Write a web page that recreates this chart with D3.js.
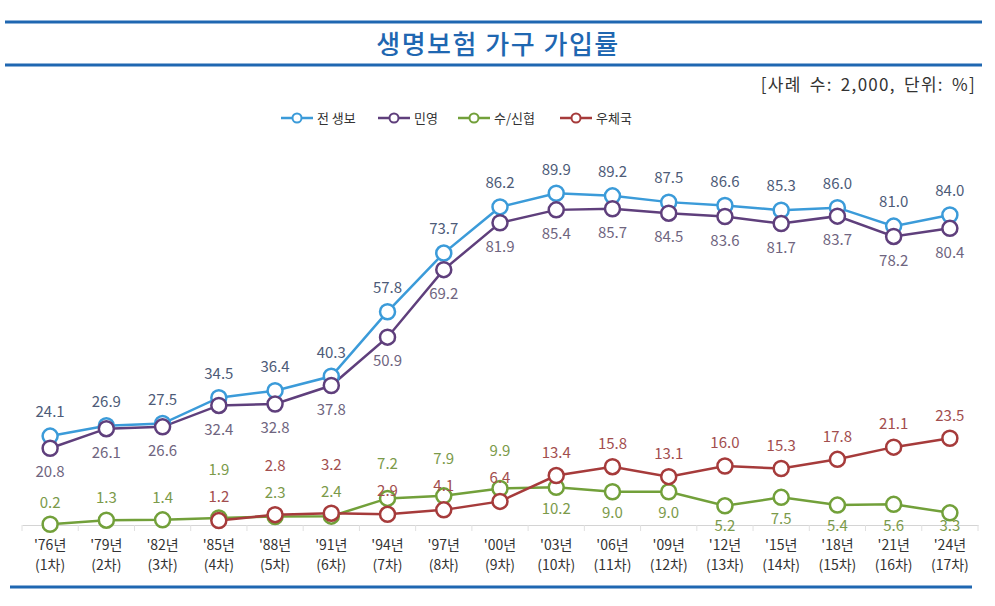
<!DOCTYPE html>
<html>
<head>
<meta charset="utf-8">
<script src="https://cdn.jsdelivr.net/npm/d3@7"></script>
<style>
  body { margin: 0; background: #fff; }
  svg { font-family: "Noto Sans CJK KR", "Noto Sans", sans-serif; }
</style>
</head>
<body>
<div id="chart"></div>
<script>
// categories (two-line tick labels)
const years = ["'76년", "'79년", "'82년", "'85년", "'88년", "'91년", "'94년", "'97년", "'00년",
  "'03년", "'06년", "'09년", "'12년", "'15년", "'18년", "'21년", "'24년"];
const rounds = ["(1차)", "(2차)", "(3차)", "(4차)", "(5차)", "(6차)", "(7차)", "(8차)", "(9차)",
  "(10차)", "(11차)", "(12차)", "(13차)", "(14차)", "(15차)", "(16차)", "(17차)"];

// series values (%)
const total = [24.1, 26.9, 27.5, 34.5, 36.4, 40.3, 57.8, 73.7, 86.2, 89.9, 89.2, 87.5, 86.6, 85.3, 86.0, 81.0, 84.0];
const privateIns = [20.8, 26.1, 26.6, 32.4, 32.8, 37.8, 50.9, 69.2, 81.9, 85.4, 85.7, 84.5, 83.6, 81.7, 83.7, 78.2, 80.4];
const coop = [0.2, 1.3, 1.4, 1.9, 2.3, 2.4, 7.2, 7.9, 9.9, 10.2, 9.0, 9.0, 5.2, 7.5, 5.4, 5.6, 3.3];
const post = [null, null, null, 1.2, 2.8, 3.2, 2.9, 4.1, 6.4, 13.4, 15.8, 13.1, 16.0, 15.3, 17.8, 21.1, 23.5];

const seriesNames = ["전 생보", "민영", "수/신협", "우체국"];

const width = 995;
const height = 606;

const svg = d3.select("#chart").append("svg")
  .attr("width", width)
  .attr("height", height);

// frame lines + title
const frameBlue = "#1f67b1";
[22, 65, 587].forEach((y, i) => {
  svg.append("line")
    .attr("x1", i === 2 ? 10 : 5).attr("x2", i === 2 ? 972 : 982)
    .attr("y1", y).attr("y2", y)
    .attr("stroke", frameBlue).attr("stroke-width", 3);
});

svg.append("text")
  .attr("x", 498).attr("y", 54)
  .attr("text-anchor", "middle")
  .attr("fill", "#1f67b1")
  .style("font-size", "26px")
  .style("font-weight", "500")
  .style("letter-spacing", "1.5px")
  .text("생명보험 가구 가입률");

svg.append("text")
  .attr("x", 976).attr("y", 91)
  .attr("text-anchor", "end")
  .attr("fill", "#333")
  .style("font-size", "17px")
  .style("letter-spacing", "1.3px")
  .style("word-spacing", "3px")
  .text("[사례 수: 2,000, 단위: %]");

// scales
const x = d3.scaleBand().domain(years).range([22, 978]);
const y = d3.scaleLinear().domain([0, 100]).range([525, 156]);
const cx = (i) => x(years[i]) + x.bandwidth() / 2;

// x axis
const xAxis = d3.axisBottom(x).tickSize(0).tickFormat("");
const gx = svg.append("g").attr("transform", "translate(0,525)").call(xAxis);
gx.select(".domain").attr("stroke", "#d4d4d4").attr("stroke-width", 1.2);
gx.selectAll(".tick").remove();

// separator ticks between categories
svg.append("g").selectAll("line")
  .data(d3.range(years.length + 1))
  .join("line")
  .attr("x1", (i) => 22 + i * x.bandwidth())
  .attr("x2", (i) => 22 + i * x.bandwidth())
  .attr("y1", 525).attr("y2", 531)
  .attr("stroke", "#e0e0e0");

const tickG = svg.append("g");
years.forEach((yr, i) => {
  const t = tickG.append("text")
    .attr("x", cx(i))
    .attr("text-anchor", "middle")
    .attr("fill", "#333")
    .style("font-size", "14px");
  t.append("tspan").attr("x", cx(i)).attr("y", 550).text(yr);
  t.append("tspan").attr("x", cx(i)).attr("y", 570).text(rounds[i]);
});

// series styling
const series = [
  { name: seriesNames[0], values: total, color: "#3b9bd9", label: "#4d5b78" },
  { name: seriesNames[1], values: privateIns, color: "#5f3f7c", label: "#6f6580" },
  { name: seriesNames[2], values: coop, color: "#72a03a", label: "#7b9a4a" },
  { name: seriesNames[3], values: post, color: "#a63b3b", label: "#a24e4e" }
];

const line = d3.line()
  .defined((d) => d != null)
  .x((d, i) => cx(i))
  .y((d) => y(d));

series.forEach((s) => {
  svg.append("path")
    .datum(s.values)
    .attr("fill", "none")
    .attr("stroke", s.color)
    .attr("stroke-width", 2.5)
    .attr("d", line);
});

series.forEach((s) => {
  svg.append("g").selectAll("circle")
    .data(s.values.map((v, i) => ({ v, i })).filter((d) => d.v != null))
    .join("circle")
    .attr("cx", (d) => cx(d.i))
    .attr("cy", (d) => y(d.v))
    .attr("r", 7.5)
    .attr("fill", "#fff")
    .attr("stroke", s.color)
    .attr("stroke-width", 2.5);
});

// data labels
const labelG = svg.append("g").style("font-size", "15px").attr("text-anchor", "middle");
function addLabel(i, v, yy, color) {
  labelG.append("text")
    .attr("x", cx(i))
    .attr("y", yy)
    .attr("dy", "0.35em")
    .attr("fill", color)
    .text(v.toFixed(1));
}

total.forEach((v, i) => addLabel(i, v, y(v) - 24, series[0].label));
privateIns.forEach((v, i) => addLabel(i, v, y(v) + 24, series[1].label));

coop.forEach((v, i) => {
  const p = post[i];
  if (i >= 9) {
    // below the point, but kept inside the plot area
    addLabel(i, v, Math.min(y(v) + 21, 526), series[2].label);
    addLabel(i, p, y(p) - 23, series[3].label);
  } else if (p == null) {
    addLabel(i, v, y(v) - 22, series[2].label);
  } else {
    // both above: stack the label of the higher point over the other
    const hiIsCoop = v >= p;
    const lowV = hiIsCoop ? p : v;
    const hiV = hiIsCoop ? v : p;
    const lowY = y(lowV) - 24;
    const hiY = Math.min(y(hiV) - 24, lowY - 27);
    addLabel(i, v, hiIsCoop ? hiY : lowY, series[2].label);
    addLabel(i, p, hiIsCoop ? lowY : hiY, series[3].label);
  }
});

// legend
const legendX = [281, 378, 458, 560];
const legend = svg.append("g");
series.forEach((s, k) => {
  const lx = legendX[k];
  legend.append("line")
    .attr("x1", lx).attr("x2", lx + 32)
    .attr("y1", 118).attr("y2", 118)
    .attr("stroke", s.color).attr("stroke-width", 2.5);
  legend.append("circle")
    .attr("cx", lx + 16).attr("cy", 118).attr("r", 4.5)
    .attr("fill", "#fff").attr("stroke", s.color).attr("stroke-width", 2);
  legend.append("text")
    .attr("x", lx + 36).attr("y", 118).attr("dy", "0.35em")
    .attr("fill", "#333")
    .style("font-size", "13px")
    .text(s.name);
});
</script>
</body>
</html>
